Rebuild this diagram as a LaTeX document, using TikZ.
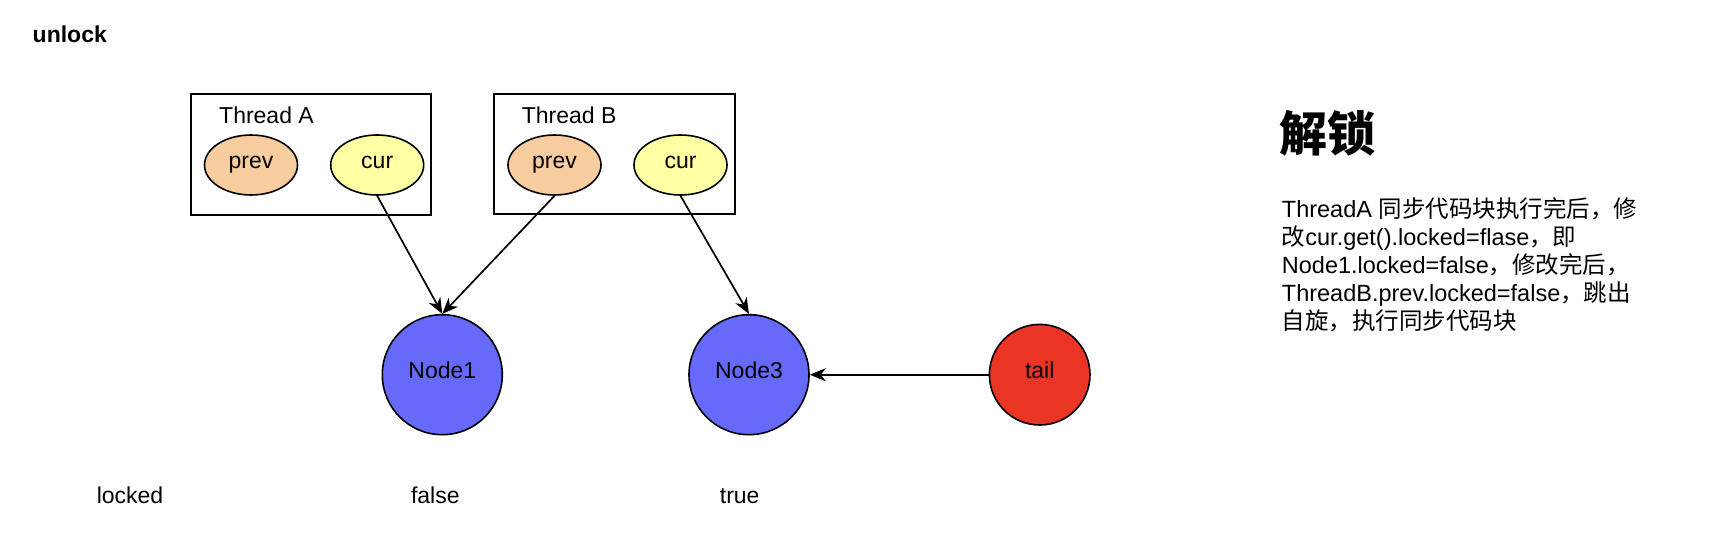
\documentclass[tikz,border=0pt]{standalone}
\usepackage{fontspec}
\setmainfont{Liberation Sans}
\newfontfamily\cjk{Noto Sans CJK SC}
\usetikzlibrary{shapes.geometric,arrows.meta}
\definecolor{prevfill}{RGB}{247,204,159}
\definecolor{curfill}{RGB}{255,255,163}
\definecolor{nodefill}{RGB}{102,106,250}
\definecolor{tailfill}{RGB}{234,52,36}
\tikzset{
  lbl/.style={font=\fontsize{23}{27}\selectfont, inner sep=0pt},
  thread/.style={draw=black, line width=2pt, fill=white},
  ctext/.style={font=\fontsize{23}{27}\selectfont, text height=0.93em, text depth=0.2em},
  var/.style={ellipse, draw=black, line width=1.6pt, minimum width=93pt, minimum height=60pt, inner sep=0pt, ctext},
  listnode/.style={circle, draw=black, line width=1.6pt, minimum size=120pt, inner sep=0pt, ctext},
  arr/.style={line width=1.7pt, -{Stealth[length=16pt, width=13pt, inset=5pt]}},
  para/.style={font=\fontsize{23.5}{28}\selectfont, inner sep=0pt, anchor=base west}
}
\begin{document}
\begin{tikzpicture}[x=1pt, y=-1pt]
\useasboundingbox[fill=white] (0,0) rectangle (1722,540);

\node[lbl, anchor=base west, font=\fontsize{23}{27}\selectfont\bfseries] (title) at (32.5,43) {unlock};

% thread boxes
\draw[thread] (190.7,94.3) rectangle (430.7,215);
\draw[thread] (494.3,94.3) rectangle (735,214.5);
\node[lbl, anchor=base west] (tA) at (219,123.3) {Thread A};
\node[lbl, anchor=base west] (tB) at (521.7,124) {Thread B};

\node[var, fill=prevfill] (prevA) at (251,165) {prev};
\node[var, fill=curfill] (curA) at (377.2,165) {cur};
\node[var, fill=prevfill] (prevB) at (554.5,165) {prev};
\node[var, fill=curfill] (curB) at (680.5,165) {cur};

\node[listnode, fill=nodefill] (n1) at (442.3,374.7) {Node1};
\node[listnode, fill=nodefill] (n3) at (749,374.7) {Node3};
\node[listnode, minimum size=100.6pt, fill=tailfill] (tail) at (1039.7,374.7) {tail};

\draw[arr] (curA.south) -- (n1.north);
\draw[arr] (prevB.south) -- (n1.north);
\draw[arr] (curB.south) -- (n3.north);
\draw[arr] (tail.west) -- (n3.east);

\node[lbl, anchor=base] (lk) at (130,503.3) {locked};
\node[lbl, anchor=base] (fa) at (435.3,503.3) {false};
\node[lbl, anchor=base] (tr) at (739.7,503.3) {true};

% right text
\node[inner sep=0pt, anchor=base west, font=\cjk\fontsize{48}{56}\selectfont\bfseries] (head) at (1279,152) {解锁};
\node[para] (p1) at (1281.7,217.7) {ThreadA {\cjk 同步代码块执行完后，修}};
\node[para] (p2) at (1281.7,245.5) {{\cjk 改}cur.get().locked=flase{\cjk ，即}};
\node[para] (p3) at (1281.7,273.3) {Node1.locked=false{\cjk ，修改完后，}};
\node[para] (p4) at (1281.7,301.1) {ThreadB.prev.locked=false{\cjk ，跳出}};
\node[para] (p5) at (1281.7,329) {{\cjk 自旋，执行同步代码块}};
\end{tikzpicture}
\end{document}
